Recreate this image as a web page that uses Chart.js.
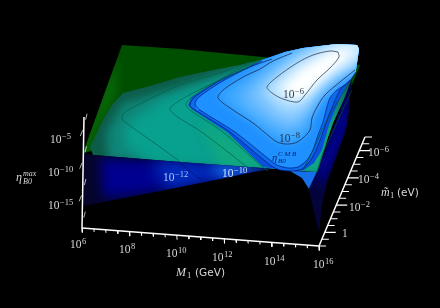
<!DOCTYPE html>
<html><head><meta charset="utf-8">
<style>html,body{margin:0;padding:0;background:#000;width:440px;height:308px;overflow:hidden}
canvas{display:block;filter:blur(.4px)}</style>
<script src="https://cdn.jsdelivr.net/npm/chart.js@4"></script></head><body>
<canvas id="c" width="440" height="308"></canvas>
<script>
// Outlines, in picture units (x right, y down).
const surfaceTop=[[262,60],[285,52],[303,48],[337,44],[357,45],[359,49],[356,70]];
const planeSheet=[[122,45],[180,49],[273,58],[360,65],[352,85],[83,153]];
const planeGlow=[[105,85],[118,60],[116,95],[98,130],[88,153],[80,153]];
const tealBase=[[93,155],[90,147],[97,133],[103,120],[112,105],[123,93],[150,86],[180,77],[213,70],[240,65],[267,58],[356,70],[352,78],[347,93],[338,112],[333,123],[327,140],[321,160],[318,172],[263,168],[213,165],[180,162]];
const tealMid=[[106,132],[123,103],[170,90],[240,68],[280,60],[348,85],[320,172],[108,160]];
const tealBright=[[125,125],[160,100],[250,70],[335,115],[322,172],[150,165],[125,145]];
const tealGreen=[[200,120],[262,155],[300,165],[330,120],[345,90],[320,172],[220,167]];
const frontBase=[[83,153],[93,155],[180,162],[263,168],[273,169],[253,172],[220,179],[150,193],[83,206]];
const frontNavy=[[100,158],[180,162],[263,168],[273,169],[220,179],[150,193],[103,198]];
const frontRoyal=[[152,160],[263,168],[273,169],[220,179],[168,190]];
const frontAzure=[[208,165],[270,168],[273,169],[253,172],[222,178]];
const patchBlue=[[263,168],[293,171],[317,172],[309,189],[302,178],[290,171],[273,169]];
const fanBase=[[317,172],[352,78],[350,95],[348,120],[345,133],[335,160],[327,183],[322,205],[319,232],[310,195],[309,189]];
const fanNavy=[[318,172],[350,85],[348,120],[340,145],[328,172],[318,190]];
const fanRoyal=[[318,172],[345,100],[335,125],[322,165],[313,182]];
const blueOuter=[...surfaceTop,[352,76],[343,92],[335,110],[329,125],[322,150],[314,163],[304,170],[292,171],[280,169.5],[263,167],[227,132],[193,110],[188,105],[192,97],[223,78],[260,62]];
const blueL1=[...surfaceTop,[350,80],[340,90],[331,110],[327,120],[322,135],[316,150],[310,161],[302,169],[292,171],[280,170],[270,165],[230,132],[195,110],[190,106],[192,100],[203,91],[223,79],[247,68],[262,61]];
const blueL2=[...surfaceTop,[356,72],[348,83],[337,90],[330,98],[327,107],[323,122],[318,135],[313,150],[307,160],[298,167],[288,168],[277,165],[270,160],[235,132],[200,110],[197,110],[195,104],[198,98],[213,87],[230,77],[250,67]];
const shade1=[[218,98],[222,91],[233,83],[247,75],[260,66],[273,56],[285,46],[303,40],[337,36],[372,36],[366,60],[355,70],[340,82],[325,95],[317,107],[312,118],[310,130],[303,138],[295,143],[285,144],[277,142],[270,137],[253,123],[233,110]];
const shade2=[[238,96],[255,80],[275,64],[295,50],[320,38],[370,36],[362,62],[335,80],[320,95],[310,112],[300,128],[285,132],[270,124],[250,110]];
const shade3=[[258,92],[278,72],[298,56],[330,40],[370,36],[360,62],[335,78],[320,90],[308,107],[295,118],[280,115]];
const shade4=[[270,90],[295,66],[330,46],[370,36],[358,60],[330,74],[315,87],[300,102],[285,102]];
const shade5=[[283,88],[300,72],[325,56],[350,48],[348,56],[320,80],[305,95],[292,97]];

const contour6=[[338,52],[330,51],[313,55],[297,63],[277,77],[267,87],[272,93],[283,99],[298,102],[305,95],[317,80],[330,68],[339,57],[338,52]];
const contour8=[[292,53],[273,61],[260,69],[247,75],[233,83],[222,91],[218,98],[233,110],[253,123],[270,137],[277,142],[285,144],[295,143],[303,138],[310,130],[312,118],[317,107],[325,95],[340,82],[355,70]];
const lineL1=[[262,61],[247,68],[223,79],[203,91],[192,100],[190,106],[195,110],[230,132],[270,165],[280,170],[292,171],[302,169],[310,161],[316,150],[322,135],[327,120],[331,110],[340,90],[350,80]];
const lineL2=[[272,59],[250,67],[230,77],[213,87],[198,98],[195,104],[200,110],[235,132],[270,160],[277,165],[288,168],[298,167],[307,160],[313,150],[318,135],[323,122],[327,107],[330,98],[337,90],[348,83],[356,72]];
const contourC=[[250,63],[207,87],[186,103],[190,110],[223,132],[260,165],[268,171]];
const contourB=[[250,67],[227,77],[193,93],[170,108],[175,115],[203,133],[247,167]];
const contourBRight=[[303,170],[313,150],[327,120],[340,98],[350,82]];
const contourA=[[250,62],[223,72],[180,85],[125,112],[122,118],[125,122],[153,142],[178,160]];
const contourARight=[[317,172],[323,153],[335,127],[345,105],[352,90]];
const contourAFront=[[178,161],[190,171],[204,182]];
const contourAPatch=[[317,172],[309,189]];

// Axis ticks
const massTicks=[6,6.5,7,7.5,8,8.5,9,9.5,10,10.5,11,11.5,12,12.5,13,13.5,14,14.5,15,15.5,16];
const massMajor=[6,8,10,12,14,16];
const massLabels=[['6',70,248],['8',119,253],['10',166,257],['12',212,261],['14',264,265],['16',313,268]];
const mTildeTicks=[1,.5,0,-.5,-1,-1.5,-2,-2.5,-3,-3.5,-4,-4.5,-5,-5.5,-6,-6.5,-7];
const mTildeMajor=[0,-2,-4,-6];
const mTildeLabels=[['−6',368,156],['−4',358,183],['−2',349,211]];
const etaTicks=[-2.5,-5,-7.5,-10,-12.5,-15,-17.5];
const etaMajor=[-5,-10,-15];
const etaLabels=[['−5',50,143],['−10',48,176],['−15',48,209]];
const surfaceLabels=[['−6',283,98,'#333a44'],['−8',279,142,'#1f3050'],['−12',163,181,'#aec4ff'],['−10',222,177,'#cfe2ff']];

// Axis frames in picture units
const massFrom=[82,228],massTo=[319,246],tildeFrom=[319,246],tildeTo=[365,137],etaFrom=[82,228],etaTo=[84,117];
const along=(a,b,t)=>[a[0]+(b[0]-a[0])*t,a[1]+(b[1]-a[1])*t];
const stubs=(list)=>{const o=[];list.forEach(s=>{o.push({x:s[0],y:s[1]},{x:s[2],y:s[3]},{x:null,y:null})});return o;};
const massStubs=stubs(massTicks.map(v=>{const p=along(massFrom,massTo,(v-6)/10),l=massMajor.includes(v)?4.5:3;return [p[0],p[1],p[0]+.3,p[1]+l];}));
const tildeStubs=stubs(mTildeTicks.map(v=>{const p=along(tildeFrom,tildeTo,(1-v)/8),l=mTildeMajor.includes(v)?11:7;return [p[0],p[1],p[0]+l,p[1]];}));
const etaStubs=stubs(etaTicks.map(v=>{const p=along(etaFrom,etaTo,(-20-v)/-17),maj=etaMajor.includes(v);return maj?[p[0]-1,p[1],p[0]-3.5,p[1]+6]:[p[0]+3,p[1],p[0]+1.5,p[1]+6];}));

const toPts=a=>a.map(p=>({x:p[0],y:p[1]}));
const areas=[
 [planeSheet,'#004f00',0],[planeGlow,'#086808',5,planeSheet],
 [tealBase,'#0d5c4a',0],[tealMid,'#0f8578',5,tealBase],[tealBright,'#08a08e',6,tealBase],[tealGreen,'#10a880',5,tealBase],
 [fanBase,'#04043a',0],[fanNavy,'#00009a',5,fanBase],[fanRoyal,'#0a30c8',4,fanBase],
 [frontBase,'#05052c',0],[frontNavy,'#000090',6,frontBase],[frontRoyal,'#0030c0',8,frontBase],[frontAzure,'#1570ec',6,frontBase],
 [patchBlue,'#1570ec',0],
 [blueOuter,'#0a50d8',0],[blueL1,'#0c6cec',0],[blueL2,'#1e90ff',0],
 [shade1,'#3aa6ff',5,blueL2],[shade2,'#6cbcff',7,blueL2],[shade3,'#a4d8ff',7,blueL2],[shade4,'#d4eeff',6,blueL2],[shade5,'#ffffff',5,blueL2]
];
const lines=[
 [contour6,'#3a4450',.8],[contour8,'#1c2a50',.8],[lineL1,'#06187a',.7],[lineL2,'#06187a',.7],
 [contourC,'#05604a',.7],[contourB,'#05604a',.7],[contourBRight,'#05503a',.7],[contourA,'#05604a',.7],[contourARight,'#05503a',.7],
 [contourAFront,'#00106a',.7],[contourAPatch,'#00106a',.7],
 [[massFrom,massTo],'#fff',1.5],[[tildeFrom,tildeTo],'#fff',1.5],[[etaFrom,etaTo],'#fff',1.5]
];
const layered=[
 ...areas.map((a,i)=>({label:'area'+i,data:toPts(a[0]),showLine:false,pointRadius:0,fillColor:a[1],blurBy:a[2],clipTo:a[3]})),
 ...lines.map((l,i)=>({label:'line'+i,data:toPts(l[0]),showLine:true,fill:false,pointRadius:0,borderColor:l[1],borderWidth:l[2],tension:.3})),
 {label:'massTicks',data:massStubs,showLine:true,spanGaps:false,pointRadius:0,borderColor:'#fff',borderWidth:1},
 {label:'tildeTicks',data:tildeStubs,showLine:true,spanGaps:false,pointRadius:0,borderColor:'#fff',borderWidth:1.1},
 {label:'etaTicks',data:etaStubs,showLine:true,spanGaps:false,pointRadius:0,borderColor:'#ddd',borderWidth:.8}
];
// Chart.js paints higher `order` first, so the list above reads back to front.
const datasets=layered.map((d,i)=>Object.assign(d,{order:layered.length-i}));
const areaPainter={id:'areaPainter',
 beforeDatasetDraw(chart,args){
  const d=chart.data.datasets[args.index]; if(!d.fillColor)return;
  const c=chart.ctx,xs=chart.scales.x,ys=chart.scales.y;
  const trace=a=>{c.beginPath();a.forEach((p,i)=>{const X=xs.getPixelForValue(p[0]),Y=ys.getPixelForValue(p[1]);i?c.lineTo(X,Y):c.moveTo(X,Y)});c.closePath()};
  c.save();
  if(d.clipTo){trace(d.clipTo);c.clip();}
  if(d.blurBy)c.filter='blur('+d.blurBy+'px)';
  c.fillStyle=d.fillColor;
  const pts=args.meta.data;
  c.beginPath();pts.forEach((p,i)=>{i?c.lineTo(p.x,p.y):c.moveTo(p.x,p.y)});c.closePath();c.fill();
  c.restore();
 },
 afterDatasetsDraw(chart){
  const c=chart.ctx,xs=chart.scales.x,ys=chart.scales.y;
  const X=v=>xs.getPixelForValue(v),Y=v=>ys.getPixelForValue(v);
  const serif='"Liberation Serif",serif';
  const pow=(e,x,y,col,b=11.5,s=8.5)=>{c.fillStyle=col;c.font=b+'px '+serif;c.fillText('10',X(x),Y(y));const w=c.measureText('10').width;c.font=s+'px '+serif;c.fillText(e,X(x)+w+.5,Y(y)-4.5);};
  c.save();c.textBaseline='alphabetic';c.textAlign='left';
  const tc='#d8d8d8';
  massLabels.forEach(l=>pow(l[0],l[1],l[2],tc));
  mTildeLabels.forEach(l=>pow(l[0],l[1],l[2],tc));
  etaLabels.forEach(l=>pow(l[0],l[1],l[2],tc));
  surfaceLabels.forEach(l=>pow(l[0],l[1],l[2],l[3]));
  c.fillStyle=tc;c.font='11.5px '+serif;c.fillText('1',X(342),Y(237));
  c.font='italic 12px '+serif;c.fillText('M',X(176),Y(276));
  c.font='8.5px '+serif;c.fillText('1',X(187),Y(278));
  c.font='10.5px "DejaVu Sans",sans-serif';c.fillText('(GeV)',X(195),Y(276));
  c.font='italic 12px '+serif;c.fillText('m̃',X(381),Y(196));
  c.font='8.5px '+serif;c.fillText('1',X(390),Y(198));
  c.font='10.5px "DejaVu Sans",sans-serif';c.fillText('(eV)',X(397),Y(196));
  c.font='italic 12px '+serif;c.fillText('η',X(16),Y(181));
  c.font='italic 8px '+serif;c.fillText('max',X(23),Y(176));c.fillText('B0',X(23),Y(184));
  c.fillStyle='#0c2268';
  c.font='italic 10.5px '+serif;c.fillText('η',X(272),Y(161));
  c.font='italic 7px '+serif;c.fillText('C M B',X(278),Y(156));c.fillText('B0',X(278),Y(163));
  c.restore();
 }
};
new Chart(document.getElementById('c').getContext('2d'),{
 type:'scatter',
 data:{datasets},
 options:{responsive:false,animation:false,events:[],layout:{padding:0},clip:false,
  plugins:{legend:{display:false},tooltip:{enabled:false},title:{display:false}},
  scales:{x:{type:'linear',min:0,max:440,display:false},y:{type:'linear',min:0,max:308,reverse:true,display:false}}
 },
 plugins:[areaPainter]
});
</script></body></html>
